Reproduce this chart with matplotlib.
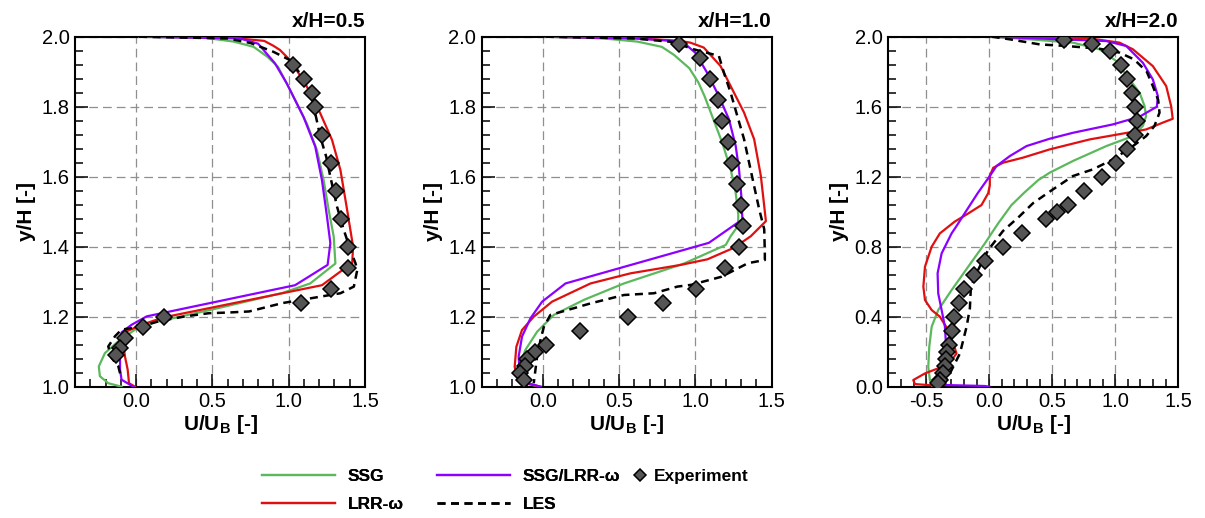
import matplotlib
matplotlib.use("Agg")
import matplotlib.pyplot as plt
from matplotlib.ticker import MultipleLocator, FormatStrFormatter

plt.rcParams['font.family'] = ['Liberation Sans', 'DejaVu Sans']
plt.rcParams['mathtext.fontset'] = 'custom'
plt.rcParams['mathtext.rm'] = 'Liberation Sans'
plt.rcParams['mathtext.bf'] = 'Liberation Sans:bold'

# ---------------- data: x/H = 0.5 ----------------
ssg_05_u = [0.02, 0.45, 0.64, 0.77, 0.86, 0.93, 1.009, 1.119, 1.185, 1.229, 1.262, 1.295, 1.306, 1.141, 0.960, 0.543, 0.103, -0.007, -0.116, -0.204, -0.244, -0.237, -0.182, -0.095]
ssg_05_y = [2.0, 1.997, 1.986, 1.971, 1.943, 1.914, 1.848, 1.752, 1.676, 1.590, 1.505, 1.429, 1.352, 1.295, 1.268, 1.225, 1.182, 1.163, 1.130, 1.096, 1.058, 1.030, 1.010, 1.0]
lrr_05_u = [0.02, 0.60, 0.84, 0.90, 0.943, 1.009, 1.108, 1.207, 1.284, 1.339, 1.383, 1.422, 1.416, 1.339, 1.218, 0.180, 0.037, -0.062, -0.084, -0.073, -0.055, -0.046, -0.007]
lrr_05_y = [2.0, 1.998, 1.988, 1.974, 1.962, 1.933, 1.867, 1.781, 1.705, 1.619, 1.505, 1.400, 1.352, 1.329, 1.290, 1.198, 1.177, 1.158, 1.125, 1.087, 1.049, 1.010, 1.0]
ssglrr_05_u = [0.02, 0.68, 0.80, 0.855, 0.910, 0.987, 1.097, 1.174, 1.218, 1.251, 1.273, 1.255, 1.042, 0.070, -0.029, -0.095, -0.105, -0.105, -0.095, -0.018]
ssglrr_05_y = [2.0, 1.995, 1.980, 1.952, 1.924, 1.867, 1.771, 1.686, 1.590, 1.486, 1.410, 1.348, 1.290, 1.201, 1.177, 1.155, 1.115, 1.049, 1.020, 1.0]
les_05_u = [0.02, 0.60, 0.75, 0.899, 1.009, 1.10, 1.141, 1.174, 1.207, 1.246, 1.273, 1.317, 1.361, 1.405, 1.438, 1.449, 1.427, 1.339, 1.191, 0.960, 0.741, 0.609, 0.477, 0.323, 0.147, 0.037, -0.095, -0.138, -0.182, -0.160, -0.116, -0.10]
les_05_y = [2.0, 1.995, 1.982, 1.957, 1.933, 1.880, 1.838, 1.781, 1.714, 1.657, 1.600, 1.514, 1.448, 1.390, 1.352, 1.333, 1.286, 1.267, 1.256, 1.239, 1.215, 1.212, 1.210, 1.201, 1.187, 1.172, 1.163, 1.144, 1.115, 1.082, 1.058, 1.030]
exp_05_u = [1.03, 1.10, 1.155, 1.17, 1.22, 1.28, 1.31, 1.345, 1.39, 1.39, 1.28, 1.08, 0.18, 0.045, -0.075, -0.105, -0.13]
exp_05_y = [1.92, 1.88, 1.84, 1.80, 1.72, 1.64, 1.56, 1.48, 1.40, 1.34, 1.28, 1.24, 1.20, 1.17, 1.14, 1.11, 1.09]

# ---------------- data: x/H = 1.0 ----------------
ssg_10_u = [0.02, 0.40, 0.62, 0.78, 0.86, 0.96, 1.02, 1.06, 1.110, 1.176, 1.231, 1.264, 1.281, 1.28, 1.231, 1.199, 0.926, 0.532, 0.269, 0.072, -0.037, -0.114, -0.147, -0.15, -0.12, -0.02]
ssg_10_y = [2.0, 1.995, 1.986, 1.971, 1.948, 1.910, 1.869, 1.830, 1.773, 1.697, 1.621, 1.554, 1.492, 1.460, 1.430, 1.405, 1.352, 1.295, 1.248, 1.205, 1.157, 1.105, 1.067, 1.040, 1.010, 1.0]
lrr_10_u = [0.02, 0.60, 0.90, 0.967, 1.055, 1.165, 1.231, 1.319, 1.385, 1.429, 1.462, 1.363, 1.253, 1.079, 0.904, 0.576, 0.313, 0.061, -0.059, -0.136, -0.173, -0.184, -0.168, -0.092, -0.015]
lrr_10_y = [2.0, 1.996, 1.988, 1.983, 1.969, 1.916, 1.859, 1.783, 1.707, 1.602, 1.473, 1.430, 1.397, 1.364, 1.348, 1.324, 1.295, 1.243, 1.200, 1.162, 1.114, 1.057, 1.029, 1.008, 1.0]
ssglrr_10_u = [0.02, 0.60, 0.85, 0.923, 1.0, 1.077, 1.154, 1.220, 1.264, 1.286, 1.301, 1.308, 1.088, 0.149, -0.004, -0.081, -0.136, -0.158, -0.151, -0.103, -0.015]
ssglrr_10_y = [2.0, 1.995, 1.988, 1.983, 1.954, 1.897, 1.830, 1.764, 1.688, 1.621, 1.545, 1.478, 1.411, 1.295, 1.243, 1.195, 1.143, 1.086, 1.038, 1.011, 1.0]
les_10_u = [0.02, 0.60, 0.85, 0.989, 1.154, 1.187, 1.231, 1.275, 1.319, 1.352, 1.385, 1.418, 1.451, 1.455, 1.455, 1.345, 1.170, 0.972, 0.882, 0.729, 0.532, 0.313, 0.050, 0.007, -0.015, -0.037, -0.048, -0.059]
les_10_y = [2.0, 1.995, 1.985, 1.964, 1.945, 1.897, 1.840, 1.773, 1.707, 1.640, 1.573, 1.507, 1.450, 1.383, 1.362, 1.353, 1.314, 1.291, 1.286, 1.267, 1.262, 1.238, 1.205, 1.171, 1.133, 1.086, 1.048, 1.010]
exp_10_u = [0.89, 1.033, 1.099, 1.147, 1.176, 1.213, 1.242, 1.275, 1.301, 1.314, 1.288, 1.193, 1.002, 0.790, 0.558, 0.243, 0.024, -0.053, -0.103, -0.118, -0.151, -0.125]
exp_10_y = [1.98, 1.94, 1.88, 1.82, 1.76, 1.70, 1.64, 1.58, 1.52, 1.46, 1.40, 1.34, 1.28, 1.24, 1.20, 1.16, 1.12, 1.10, 1.08, 1.06, 1.04, 1.02]

# ---------------- data: x/H = 2.0 ----------------
ssg_20_u = [0.02, 0.322, 0.665, 0.876, 1.008, 1.113, 1.193, 1.232, 1.245, 1.219, 1.140, 0.929, 0.665, 0.480, 0.390, 0.280, 0.177, 0.071, -0.034, -0.166, -0.298, -0.404, -0.456, -0.475, -0.483, -0.470, -0.45]
ssg_20_y = [2.0, 1.985, 1.966, 1.928, 1.861, 1.756, 1.680, 1.604, 1.547, 1.490, 1.432, 1.375, 1.290, 1.223, 1.181, 1.110, 1.038, 0.933, 0.819, 0.686, 0.552, 0.438, 0.343, 0.229, 0.114, 0.038, 0.0]
lrr_20_u = [0.02, 0.80, 1.034, 1.140, 1.298, 1.404, 1.443, 1.456, 1.377, 1.245, 0.797, 0.480, 0.269, 0.111, 0.032, 0.005, 0.005, -0.008, -0.061, -0.166, -0.274, -0.391, -0.456, -0.509, -0.522, -0.509, -0.456, -0.391, -0.325, -0.285, -0.259, -0.298, -0.404, -0.509, -0.602, -0.589, -0.404]
lrr_20_y = [2.0, 1.990, 1.966, 1.928, 1.832, 1.718, 1.604, 1.531, 1.509, 1.470, 1.413, 1.356, 1.309, 1.280, 1.251, 1.204, 1.150, 1.105, 1.038, 0.990, 0.943, 0.876, 0.800, 0.686, 0.571, 0.495, 0.438, 0.400, 0.324, 0.248, 0.190, 0.152, 0.105, 0.076, 0.038, 0.015, 0.005]
ssglrr_20_u = [0.02, 0.929, 1.087, 1.219, 1.298, 1.338, 1.330, 1.193, 0.982, 0.665, 0.480, 0.296, 0.164, 0.058, 0.005, -0.09, -0.186, -0.259, -0.298, -0.377, -0.409, -0.404, -0.377, -0.351, -0.343, -0.351, -0.377, -0.404, -0.377, -0.034, 0.0]
ssglrr_20_y = [2.0, 1.975, 1.947, 1.851, 1.756, 1.661, 1.600, 1.543, 1.499, 1.451, 1.417, 1.375, 1.318, 1.261, 1.204, 1.107, 1.000, 0.918, 0.876, 0.762, 0.648, 0.533, 0.438, 0.343, 0.248, 0.152, 0.076, 0.038, 0.010, 0.004, 0.0]
les_20_u = [0.02, 0.164, 0.401, 0.612, 0.876, 1.034, 1.15, 1.25, 1.298, 1.34, 1.351, 1.311, 1.245, 1.140, 0.982, 0.823, 0.665, 0.507, 0.35, 0.235, 0.11, -0.008, -0.10, -0.145, -0.153, -0.179, -0.232, -0.285, -0.33, -0.36]
les_20_y = [2.0, 1.985, 1.956, 1.947, 1.931, 1.909, 1.870, 1.800, 1.718, 1.640, 1.566, 1.490, 1.432, 1.375, 1.299, 1.242, 1.204, 1.128, 1.050, 0.970, 0.890, 0.781, 0.650, 0.571, 0.448, 0.343, 0.190, 0.114, 0.050, 0.020]
exp_20_u = [0.591, 0.815, 0.960, 1.047, 1.095, 1.132, 1.156, 1.174, 1.156, 1.095, 1.008, 0.894, 0.752, 0.623, 0.538, 0.454, 0.264, 0.106, -0.034, -0.119, -0.198, -0.240, -0.280, -0.298, -0.317, -0.338, -0.343, -0.351, -0.364, -0.391, -0.404]
exp_20_y = [1.98, 1.96, 1.92, 1.84, 1.76, 1.68, 1.60, 1.52, 1.44, 1.36, 1.28, 1.20, 1.12, 1.04, 1.00, 0.96, 0.88, 0.80, 0.72, 0.64, 0.56, 0.48, 0.40, 0.32, 0.24, 0.20, 0.16, 0.12, 0.08, 0.04, 0.02]

titles = ['x/H=0.5', 'x/H=1.0', 'x/H=2.0']
labels = ['SSG', 'LRR-\u03c9', 'SSG/LRR-\u03c9', 'LES', 'Experiment']

panels = [
    (ssg_05_u, ssg_05_y, lrr_05_u, lrr_05_y, ssglrr_05_u, ssglrr_05_y, les_05_u, les_05_y, exp_05_u, exp_05_y),
    (ssg_10_u, ssg_10_y, lrr_10_u, lrr_10_y, ssglrr_10_u, ssglrr_10_y, les_10_u, les_10_y, exp_10_u, exp_10_y),
    (ssg_20_u, ssg_20_y, lrr_20_u, lrr_20_y, ssglrr_20_u, ssglrr_20_y, les_20_u, les_20_y, exp_20_u, exp_20_y),
]

c_ssg = '#5cb85c'
c_lrr = '#e01010'
c_mix = '#8c00ff'

W, H = 1205, 518
fig = plt.figure(figsize=(W / 100, H / 100), dpi=100)

lefts = [75, 481.7, 888.3]
ax_w, ax_h = 290, 350
ax_top = 36.7
xlims = [(-0.4, 1.5), (-0.4, 1.5), (-0.8, 1.5)]
ylims = [(1.0, 2.0), (1.0, 2.0), (0.0, 2.0)]
ymajor = [0.2, 0.2, 0.4]

handles = None
for i, (p, l) in enumerate(zip(panels, lefts)):
    ax = fig.add_axes([l / W, 1 - (ax_top + ax_h) / H, ax_w / W, ax_h / H])
    su, sy, lu, ly, mu, my, eu, ey, xu, xy = p
    h1, = ax.plot(su, sy, color=c_ssg, lw=1.6, zorder=3)
    h2, = ax.plot(lu, ly, color=c_lrr, lw=1.6, zorder=3)
    h3, = ax.plot(mu, my, color=c_mix, lw=1.6, zorder=3)
    h4, = ax.plot(eu, ey, color='black', lw=1.8, dashes=(3.2, 2.2), zorder=4)
    h5, = ax.plot(xu, xy, linestyle='none', marker='D', ms=7.8, mfc='#555555',
                  mec='black', mew=1.1, zorder=5)
    handles = [h1, h2, h3, h4, h5]
    ax.set_xlim(*xlims[i])
    ax.set_ylim(*ylims[i])
    ax.xaxis.set_major_locator(MultipleLocator(0.5))
    ax.xaxis.set_minor_locator(MultipleLocator(0.1))
    ax.yaxis.set_major_locator(MultipleLocator(ymajor[i]))
    ax.yaxis.set_minor_locator(MultipleLocator(ymajor[i] / 5))
    ax.xaxis.set_major_formatter(FormatStrFormatter('%.1f'))
    ax.yaxis.set_major_formatter(FormatStrFormatter('%.1f'))
    ax.tick_params(which='both', direction='in', top=False, right=False,
                   labelsize=14.5, width=1.1, pad=4)
    ax.tick_params(which='major', length=9.5)
    ax.tick_params(which='minor', length=5.8)
    ax.grid(True, which='major', color='#8f8f8f', lw=0.9, dashes=(7, 4))
    for s in ax.spines.values():
        s.set_linewidth(1.5)
    ax.set_ylabel('y/H [-]', fontsize=15, fontweight='bold', labelpad=4)
    ax.set_xlabel(r'U/U$_{\mathbf{B}}$ [-]', fontsize=15, fontweight='bold', labelpad=1)
    ax.set_title(titles[i], loc='right', fontsize=15, fontweight='bold', pad=7)

fs_leg = 12.5
leg1 = fig.legend([handles[0], handles[1], handles[2], handles[3]],
                  [labels[0], labels[1], labels[2], labels[3]],
                  ncol=2, loc='upper left', bbox_to_anchor=(262 / W, 1 - 469 / H),
                  frameon=False, borderpad=0, borderaxespad=0,
                  handlelength=4.2, handletextpad=0.75, columnspacing=1.9,
                  labelspacing=0.72, prop={'size': fs_leg, 'weight': 'bold'})
fig.add_artist(leg1)
leg2 = fig.legend([handles[4]], [labels[4]], loc='upper left',
                  bbox_to_anchor=(631 / W, 1 - 469 / H), frameon=False,
                  borderpad=0, borderaxespad=0, handlelength=1.0,
                  handletextpad=0.3, markerscale=0.75,
                  prop={'size': fs_leg, 'weight': 'bold'})

fig.savefig('out.png', dpi=100)
